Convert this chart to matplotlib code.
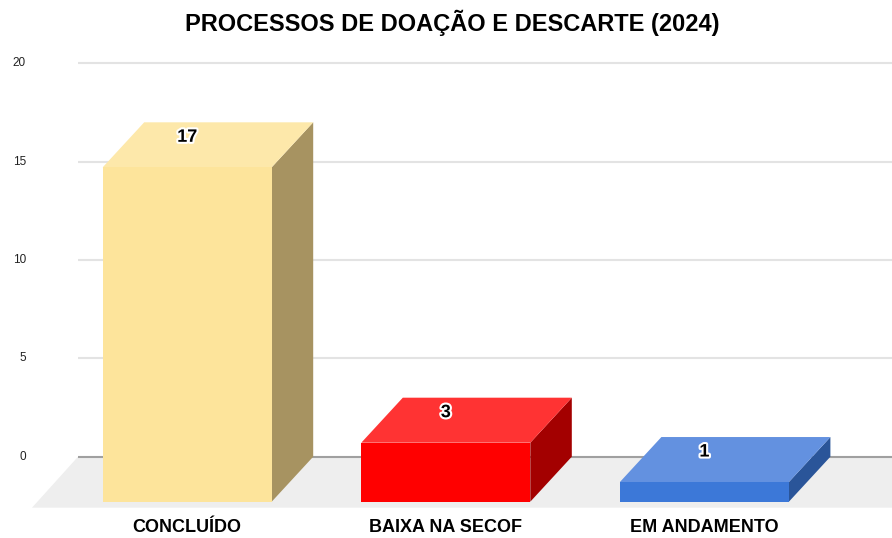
import matplotlib.pyplot as plt
from matplotlib.patches import Polygon
import matplotlib.patheffects as pe

plt.rcParams['font.family'] = ['Liberation Sans', 'DejaVu Sans']

titulo = "PROCESSOS DE DOAÇÃO E DESCARTE (2024)"
categorias = ["CONCLUÍDO", "BAIXA NA SECOF", "EM ANDAMENTO"]
valores = [17, 3, 1]
ticks_y = [0, 5, 10, 15, 20]

# front / top / side colour of each bar
cor_frente = ["#FDE49B", "#FF0000", "#3C78D8"]
cor_topo = ["#FDE8AA", "#FF3333", "#6391E0"]
cor_lado = ["#A79361", "#A30000", "#2A5599"]

W, H = 892, 538
# pixel layout of the category / value scale
X0, XS = 187.2, 258.6      # first category centre, spacing
Y0, YU = 81.3, 19.67       # zero line above bottom, px per unit

fig = plt.figure(figsize=(W / 100, H / 100), dpi=100)
ax = fig.add_axes([0, 0, 1, 1])
ax.set_xlim(-X0 / XS, (W - X0) / XS)
ax.set_ylim(-Y0 / YU, (H - Y0) / YU)
ax.axis("off")

largura = 169 / XS
prof_x, prof_y = 41.5 / XS, 45 / YU          # bar depth
chao_x, chao_y = 46 / XS, 51 / YU            # floor depth
grade_ini = (78 - X0) / XS
grade_fim = ax.get_xlim()[1] + 0.3

# floor
ax.add_patch(Polygon([(grade_ini, 0), (grade_fim, 0),
                      (grade_fim - chao_x, -chao_y), (grade_ini - chao_x, -chao_y)],
                     closed=True, fc="#EEEEEE", ec="none", zorder=1))

# gridlines on the back wall + tick labels
for t in ticks_y:
    cor = "#A0A0A0" if t == 0 else "#E3E3E3"
    ax.plot([grade_ini, grade_fim], [t, t], color=cor, lw=1.5, zorder=2,
            solid_capstyle="butt")
    ax.text((26 - X0) / XS, t, str(t), ha="right", va="center",
            fontsize=8.5, color="#222222")

for i, (cat, v) in enumerate(zip(categorias, valores)):
    xl, xr = i - largura / 2, i + largura / 2
    frente = [(xl, -prof_y), (xr, -prof_y), (xr, v - prof_y), (xl, v - prof_y)]
    topo = [(xl, v - prof_y), (xr, v - prof_y), (xr + prof_x, v), (xl + prof_x, v)]
    lado = [(xr, -prof_y), (xr + prof_x, 0), (xr + prof_x, v), (xr, v - prof_y)]
    ax.add_patch(Polygon(lado, closed=True, fc=cor_lado[i], ec="none", zorder=3))
    ax.add_patch(Polygon(topo, closed=True, fc=cor_topo[i], ec="none", zorder=3))
    ax.add_patch(Polygon(frente, closed=True, fc=cor_frente[i], ec="none", zorder=4))

    ax.annotate(str(v), (i, v), xytext=(0, -15), textcoords="offset pixels",
                ha="center", va="center", fontsize=13, fontweight="bold",
                color="black", zorder=6,
                path_effects=[pe.withStroke(linewidth=3, foreground="white")])

    ax.text(i, (H - 532 - Y0) / YU, cat, ha="center", va="baseline",
            fontsize=13, fontweight="bold", color="black")

ax.text((452 - X0) / XS, (H - 31 - Y0) / YU, titulo, ha="center", va="baseline",
        fontsize=17, fontweight="bold", color="black")

fig.savefig("out.png", dpi=100)
